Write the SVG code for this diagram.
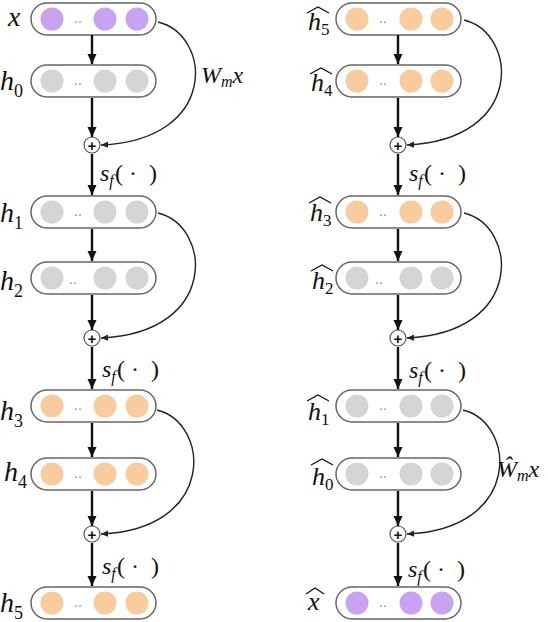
<svg xmlns="http://www.w3.org/2000/svg" width="548" height="622" viewBox="0 0 548 622">
<style>
.pill{fill:#fff;stroke:#666;stroke-width:1.5}
.pu{fill:#c9a3f1}
.or{fill:#f8cc9c}
.gr{fill:#d5d5d5}
.dots{font-family:'Liberation Sans',Arial,sans-serif;font-size:14px;fill:#888;text-anchor:middle}
.lbl{font-family:'Liberation Serif','Times New Roman',serif;font-style:italic;font-size:28px;fill:#111}
.rl{font-family:'Liberation Serif','Times New Roman',serif;font-style:italic;font-size:26px;fill:#111}
.sub{font-size:18px;font-style:normal}
.rsub{font-size:17px;font-style:normal}
.isub{font-size:16px;font-style:italic}
.sf{font-family:'Liberation Serif','Times New Roman',serif;font-style:italic;font-size:24px;fill:#111}
.up{font-style:normal}
.arr{stroke:#111;stroke-width:2.4;fill:none;marker-end:url(#ah)}
.cur{stroke:#222;stroke-width:1.4;fill:none;marker-end:url(#ch)}
.plus circle{fill:#fff;stroke:#555;stroke-width:1.2}
.plus text{font-family:'Liberation Sans',Arial,sans-serif;font-weight:bold;font-size:15px;fill:#111;text-anchor:middle}
.hat{fill:none;stroke:#111;stroke-width:1.2}
</style>
<defs>
<marker id="ah" viewBox="0 0 10 10" markerUnits="userSpaceOnUse" markerWidth="10" markerHeight="10" refX="10" refY="5" orient="auto"><path d="M0,0.5 L10,5 L0,9.5 z" fill="#111"/></marker>
<marker id="ch" viewBox="0 0 10 10" markerUnits="userSpaceOnUse" markerWidth="7" markerHeight="7" refX="10" refY="5" orient="auto"><path d="M0,0.5 L10,5 L0,9.5 z" fill="#222"/></marker>
</defs>

<!-- Left column nodes -->
<g id="x">
<rect class="pill" x="31" y="3" width="125" height="32" rx="16"/>
<circle class="pu" cx="52" cy="19" r="11.5"/><text class="dots" x="78" y="23">..</text><circle class="pu" cx="105" cy="19" r="11.5"/><circle class="pu" cx="137" cy="19" r="11.5"/>
<text class="lbl" x="8" y="26">x</text>
</g>
<g id="h0">
<rect class="pill" x="31" y="65" width="125" height="32" rx="16"/>
<circle class="gr" cx="52" cy="81" r="11.5"/><text class="dots" x="78" y="85">..</text><circle class="gr" cx="105" cy="81" r="11.5"/><circle class="gr" cx="137" cy="81" r="11.5"/>
<text class="lbl" x="0" y="90">h<tspan class="sub" dy="7">0</tspan></text>
</g>
<g id="h1">
<rect class="pill" x="31" y="196" width="125" height="32" rx="16"/>
<circle class="gr" cx="52" cy="212" r="11.5"/><text class="dots" x="78" y="216">..</text><circle class="gr" cx="105" cy="212" r="11.5"/><circle class="gr" cx="137" cy="212" r="11.5"/>
<text class="lbl" x="0" y="222">h<tspan class="sub" dy="7">1</tspan></text>
</g>
<g id="h2">
<rect class="pill" x="31" y="262" width="125" height="32" rx="16"/>
<circle class="gr" cx="52" cy="278" r="11.5"/><text class="dots" x="73" y="284">..</text><circle class="gr" cx="105" cy="278" r="11.5"/><circle class="gr" cx="137" cy="278" r="11.5"/>
<text class="lbl" x="0" y="290">h<tspan class="sub" dy="7">2</tspan></text>
</g>
<g id="h3">
<rect class="pill" x="31" y="390" width="125" height="32" rx="16"/>
<circle class="or" cx="52" cy="406" r="11.5"/><text class="dots" x="78" y="410">..</text><circle class="or" cx="105" cy="406" r="11.5"/><circle class="or" cx="137" cy="406" r="11.5"/>
<text class="lbl" x="0" y="420">h<tspan class="sub" dy="7">3</tspan></text>
</g>
<g id="h4">
<rect class="pill" x="31" y="458" width="125" height="32" rx="16"/>
<circle class="or" cx="52" cy="474" r="11.5"/><text class="dots" x="78" y="478">..</text><circle class="or" cx="105" cy="474" r="11.5"/><circle class="or" cx="137" cy="474" r="11.5"/>
<text class="lbl" x="4" y="481">h<tspan class="sub" dy="7">4</tspan></text>
</g>
<g id="h5">
<rect class="pill" x="31" y="587" width="125" height="32" rx="16"/>
<circle class="or" cx="52" cy="603" r="11.5"/><text class="dots" x="78" y="607">..</text><circle class="or" cx="105" cy="603" r="11.5"/><circle class="or" cx="137" cy="603" r="11.5"/>
<text class="lbl" x="0" y="612">h<tspan class="sub" dy="7">5</tspan></text>
</g>
<g id="plusL1" class="plus"><circle cx="92" cy="145" r="8"/><text x="92" y="150.5">+</text></g>
<g id="plusL2" class="plus"><circle cx="92" cy="338" r="8"/><text x="92" y="343.5">+</text></g>
<g id="plusL3" class="plus"><circle cx="92" cy="534" r="8"/><text x="92" y="539.5">+</text></g>

<!-- Right column nodes -->
<g id="h5hat">
<rect class="pill" x="336" y="3" width="125" height="32" rx="16"/>
<circle class="or" cx="357" cy="19" r="11.5"/><text class="dots" x="383" y="23">..</text><circle class="or" cx="411" cy="19" r="11.5"/><circle class="or" cx="442" cy="19" r="11.5"/>
<text class="rl" x="308" y="30">h<tspan class="rsub" dy="5">5</tspan></text>
<path class="hat" d="M307,13 L318,7 L329,13"/>
</g>
<g id="h4hat">
<rect class="pill" x="336" y="65" width="125" height="32" rx="16"/>
<circle class="or" cx="357" cy="81" r="11.5"/><text class="dots" x="383" y="85">..</text><circle class="or" cx="411" cy="81" r="11.5"/><circle class="or" cx="442" cy="81" r="11.5"/>
<text class="rl" x="311" y="91">h<tspan class="rsub" dy="5">4</tspan></text>
<path class="hat" d="M310,74 L321,68 L332,74"/>
</g>
<g id="h3hat">
<rect class="pill" x="336" y="196" width="125" height="32" rx="16"/>
<circle class="or" cx="357" cy="212" r="11.5"/><text class="dots" x="383" y="216">..</text><circle class="or" cx="411" cy="212" r="11.5"/><circle class="or" cx="442" cy="212" r="11.5"/>
<text class="rl" x="310" y="221">h<tspan class="rsub" dy="5">3</tspan></text>
<path class="hat" d="M309,203 L320,197 L331,203"/>
</g>
<g id="h2hat">
<rect class="pill" x="336" y="262" width="125" height="32" rx="16"/>
<circle class="gr" cx="357" cy="278" r="11.5"/><text class="dots" x="379" y="284">..</text><circle class="gr" cx="411" cy="278" r="11.5"/><circle class="gr" cx="442" cy="278" r="11.5"/>
<text class="rl" x="312" y="289">h<tspan class="rsub" dy="5">2</tspan></text>
<path class="hat" d="M311,271 L322,265 L333,271"/>
</g>
<g id="h1hat">
<rect class="pill" x="336" y="390" width="125" height="32" rx="16"/>
<circle class="gr" cx="357" cy="406" r="11.5"/><text class="dots" x="383" y="410">..</text><circle class="gr" cx="411" cy="406" r="11.5"/><circle class="gr" cx="442" cy="406" r="11.5"/>
<text class="rl" x="308" y="420">h<tspan class="rsub" dy="5">1</tspan></text>
<path class="hat" d="M307,401 L318,395 L329,401"/>
</g>
<g id="h0hat">
<rect class="pill" x="336" y="458" width="125" height="32" rx="16"/>
<circle class="gr" cx="357" cy="474" r="11.5"/><text class="dots" x="383" y="478">..</text><circle class="gr" cx="411" cy="474" r="11.5"/><circle class="gr" cx="442" cy="474" r="11.5"/>
<text class="rl" x="312" y="485">h<tspan class="rsub" dy="5">0</tspan></text>
<path class="hat" d="M311,465 L322,459 L333,465"/>
</g>
<g id="xhat">
<rect class="pill" x="336" y="587" width="125" height="32" rx="16"/>
<circle class="pu" cx="357" cy="603" r="11.5"/><text class="dots" x="383" y="607">..</text><circle class="pu" cx="411" cy="603" r="11.5"/><circle class="pu" cx="442" cy="603" r="11.5"/>
<text class="rl" x="308" y="610">x</text>
<path class="hat" d="M306,594 L315,588 L324,594"/>
</g>
<g id="plusR1" class="plus"><circle cx="398" cy="145" r="8"/><text x="398" y="150.5">+</text></g>
<g id="plusR2" class="plus"><circle cx="398" cy="338" r="8"/><text x="398" y="343.5">+</text></g>
<g id="plusR3" class="plus"><circle cx="398" cy="534" r="8"/><text x="398" y="539.5">+</text></g>

<!-- Connectors -->
<g id="connectors">
<path class="arr" d="M92,35 V64"/>
<path class="arr" d="M92,98 V137"/>
<path class="arr" d="M92,154 V195"/>
<path class="arr" d="M92,229 V261"/>
<path class="arr" d="M92,295 V330"/>
<path class="arr" d="M92,347 V389"/>
<path class="arr" d="M92,423 V457"/>
<path class="arr" d="M92,491 V526"/>
<path class="arr" d="M92,543 V586"/>
<path class="arr" d="M398,35 V64"/>
<path class="arr" d="M398,98 V137"/>
<path class="arr" d="M398,154 V195"/>
<path class="arr" d="M398,229 V261"/>
<path class="arr" d="M398,295 V330"/>
<path class="arr" d="M398,347 V389"/>
<path class="arr" d="M398,423 V457"/>
<path class="arr" d="M398,491 V526"/>
<path class="arr" d="M398,543 V586"/>
<path class="cur" d="M158,22 C212,35 219,140 101,145"/>
<path class="cur" d="M158,213 C212,226 219,333 101,338"/>
<path class="cur" d="M157,410 C210,423 217,529 101,534"/>
<path class="cur" d="M464,20 C518,33 525,140 407,145"/>
<path class="cur" d="M464,213 C518,226 525,333 407,338"/>
<path class="cur" d="M463,410 C516,423 523,529 407,534"/>
<text class="sf" x="201" y="83">W<tspan class="isub" dy="4">m</tspan><tspan dy="-4">x</tspan></text>
<text class="sf" x="497" y="477">Ŵ<tspan class="isub" dy="4">m</tspan><tspan dy="-4">x</tspan></text>
<text class="sf" x="100" y="181">s<tspan class="isub" dy="5">f</tspan><tspan class="up" x="115" dy="-5">(</tspan><tspan class="up" x="129">·</tspan><tspan class="up" x="149">)</tspan></text>
<text class="sf" x="102" y="377">s<tspan class="isub" dy="5">f</tspan><tspan class="up" x="117" dy="-5">(</tspan><tspan class="up" x="131">·</tspan><tspan class="up" x="151">)</tspan></text>
<text class="sf" x="102" y="574">s<tspan class="isub" dy="5">f</tspan><tspan class="up" x="117" dy="-5">(</tspan><tspan class="up" x="131">·</tspan><tspan class="up" x="151">)</tspan></text>
<text class="sf" x="409" y="181">s<tspan class="isub" dy="5">f</tspan><tspan class="up" x="424" dy="-5">(</tspan><tspan class="up" x="438">·</tspan><tspan class="up" x="458">)</tspan></text>
<text class="sf" x="409" y="378">s<tspan class="isub" dy="5">f</tspan><tspan class="up" x="424" dy="-5">(</tspan><tspan class="up" x="438">·</tspan><tspan class="up" x="458">)</tspan></text>
<text class="sf" x="408" y="577">s<tspan class="isub" dy="5">f</tspan><tspan class="up" x="423" dy="-5">(</tspan><tspan class="up" x="437">·</tspan><tspan class="up" x="457">)</tspan></text>
</g>
</svg>
